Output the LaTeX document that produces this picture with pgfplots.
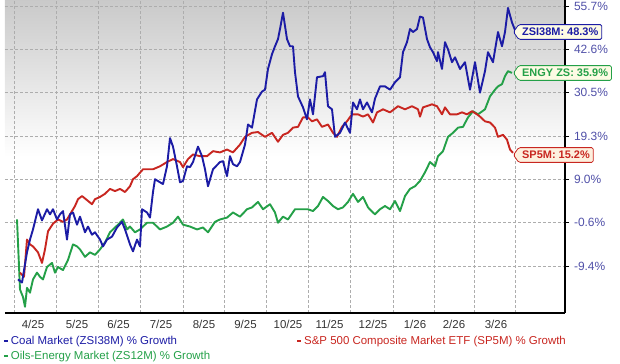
\documentclass[border=0pt]{standalone}
\usepackage{pgfplots}
\pgfplotsset{compat=1.18}
\usepackage{fontspec}
\setmainfont{Liberation Sans}
\usetikzlibrary{shapes.symbols}
\definecolor{cblue}{RGB}{28,28,165}
\definecolor{cred}{RGB}{200,38,32}
\definecolor{cgreen}{RGB}{36,160,72}
\definecolor{tickblue}{RGB}{80,80,168}
\definecolor{cream}{RGB}{253,251,228}
\definecolor{peach}{RGB}{253,240,222}
\begin{document}
\begin{tikzpicture}
\useasboundingbox (0,0) rectangle (620bp,364bp);
\begin{axis}[
  at={(5bp,51bp)}, anchor=south west,
  scale only axis, width=560bp, height=313bp,
  xmin=5, xmax=565,
  ymode=log, ymin=98.78, ymax=174.6,
  axis x line*=bottom, axis y line*=right,
  axis line style={line width=1.8bp, black},
  ytick={107.6,116.4,126,136.3,147.5,159.6,172.7},
  yticklabels={-9.4\%,-0.6\%,9.0\%,19.3\%,30.5\%,42.6\%,55.7\%},
  ymajorgrids,
  xtick={33,77,118.5,161,204,245.5,288,329.5,373,415,454,496},
  xticklabels={4/25,5/25,6/25,7/25,8/25,9/25,10/25,11/25,12/25,1/26,2/26,3/26},
  minor xtick={14,56,98,140,183,224,266,308,350,393,434,474,515},
  xminorgrids, xmajorgrids=false,
  grid style={densely dashed, black!32, line width=0.6bp},
  minor grid style={densely dashed, black!32, line width=0.6bp},
  xtick style={draw=none}, minor tick length=0pt,
  ytick style={black, line width=0.8bp},
  tick align=outside, major tick length=4bp,
  yticklabel style={text=tickblue, font=\fontsize{12}{13}\selectfont, xshift=1.5bp},
  xticklabel style={text=black!80, font=\fontsize{11.5}{12}\selectfont},
  axis background/.style={top color=black!21, bottom color=white, middle color=white},
  legend style={draw=none, fill=none, at={(-0.004,-0.067)}, anchor=north west,
    font=\fontsize{11.5}{12}\selectfont, inner sep=0pt, row sep=1bp,
    /tikz/every even column/.append style={column sep=84bp}},
  legend columns=2, legend cell align=left,
  legend image code/.code={\draw[#1, line width=2bp] (0bp,0bp) -- (4bp,0bp);},
  every axis plot/.append style={line width=1.9bp, line join=round},
]
\addlegendimage{cblue}
\addlegendentry{\textcolor{cblue}{Coal Market (ZSI38M) \% Growth}}
\addlegendimage{cred}
\addlegendentry{\textcolor{cred}{S\&P 500 Composite Market ETF (SP5M) \% Growth}}
\addlegendimage{cgreen}
\addlegendentry{\textcolor{cgreen}{Oils-Energy Market (ZS12M) \% Growth}}

% Oils-Energy Market (ZS12M) % growth
\addplot[cgreen, forget plot] table[x=x, y expr=\thisrow{g}+117] {
x g
17 0.1
20 -13.9
23 -15.3
25 -17.1
27 -13.6
30 -14.5
33 -12.0
37 -10.7
40 -11.5
43 -12.0
47 -9.6
52 -8.8
55 -10.7
58 -9.6
63 -10.2
68 -8.2
73 -5.1
77 -5.5
80 -6.1
85 -7.6
90 -6.7
95 -7.2
100 -6.1
105 -4.7
110 -2.6
113 -2.0
118 -1.0
123 0.1
127 -2.0
130 -1.4
135 -2.6
140 -2.0
147 -0.6
153 -0.6
160 -2.0
167 -1.4
173 -0.6
178 0.7
183 -1.0
190 -1.4
197 -2.0
203 -1.6
208 -2.6
215 -0.4
220 0.1
227 0.5
233 1.6
240 0.7
247 2.3
252 2.7
258 3.9
263 2.3
270 3.4
275 1.6
278 -0.6
283 0.7
288 0.1
295 2.3
302 2.3
308 2.3
313 1.9
318 3.0
323 5.0
328 4.1
333 3.0
338 2.3
343 2.7
348 3.9
353 5.7
358 3.9
363 5.0
368 2.7
373 1.6
375 1.2
380 2.3
385 3.0
390 2.3
395 4.1
400 1.9
405 5.2
410 6.8
415 7.4
420 8.6
425 10.6
430 13.0
435 12.0
438 14.4
443 15.6
448 19.1
453 20.1
458 21.4
463 21.6
468 24.0
473 25.6
478 24.8
485 26.1
490 29.5
495 31.3
498 32.2
502 32.8
505 35.0
508 36.4
512 35.9
};

% S&P 500 Composite (SP5M) % growth
\addplot[cred, forget plot] table[x=x, y expr=\thisrow{g}+117] {
x g
20 -10.7
24 -11.5
27 -4.1
30 -5.1
33 -5.5
38 -6.7
42 -8.8
45 -6.1
48 -2.4
53 -0.8
58 0.1
63 -0.4
67 0.1
72 1.9
75 3.0
78 4.5
82 5.2
87 4.3
92 3.4
95 4.5
100 5.0
105 5.7
110 6.8
115 6.3
120 6.8
125 6.1
130 7.4
133 9.0
137 9.7
143 11.3
148 11.3
153 11.3
160 12.0
167 13.0
173 13.7
180 13.0
183 11.8
188 13.7
193 14.8
200 14.4
207 14.4
213 15.6
220 15.3
227 16.0
233 15.3
240 17.2
245 19.1
252 20.1
258 20.3
265 19.1
272 20.1
278 17.9
283 19.6
288 20.1
293 21.4
298 21.6
303 24.0
308 24.0
312 23.0
317 23.5
322 21.6
328 22.2
333 20.1
337 19.1
342 21.6
347 23.0
352 24.8
358 24.8
363 24.2
368 24.8
373 22.7
377 25.3
383 26.1
390 25.3
398 26.9
405 26.1
412 26.9
418 26.1
420 24.2
423 26.6
432 27.4
437 26.9
442 24.8
445 26.6
450 24.8
457 24.8
462 25.3
467 24.8
472 25.6
477 24.8
480 24.2
485 23.0
490 22.7
495 21.4
498 19.1
503 19.6
507 18.4
510 16.0
513 15.2
};

% Coal Market (ZSI38M) % growth
\addplot[cblue, forget plot] table[x=x, y expr=\thisrow{g}+117] {
x g
18 -12.0
22 -12.6
27 -6.7
30 -4.1
33 -2.0
38 2.3
42 -0.1
47 2.3
50 1.2
53 2.3
57 0.1
60 1.2
63 1.9
67 -4.1
70 1.2
73 1.6
77 -1.0
80 0.7
85 -2.6
88 -1.4
92 -3.1
95 -2.6
100 -4.1
103 -5.5
107 -4.1
112 -3.5
117 -1.6
122 -0.4
125 -2.0
130 -5.1
133 -6.5
137 -4.1
140 -5.5
142 2.3
147 1.6
150 0.5
153 6.1
155 9.0
160 8.3
163 7.9
167 12.0
170 18.8
173 16.7
177 12.0
180 8.3
183 8.6
187 12.0
190 11.8
193 13.0
198 16.7
202 14.4
205 11.3
208 7.4
213 11.3
220 13.0
223 13.2
227 9.7
230 14.4
233 12.5
237 12.0
240 13.0
245 17.2
248 22.2
252 21.4
257 28.7
262 30.8
265 31.3
268 37.0
272 41.2
275 43.5
278 45.6
280 48.6
283 53.6
287 45.6
290 43.5
293 43.5
295 36.1
298 29.5
303 26.6
307 23.5
310 28.7
313 24.8
317 34.7
323 35.0
325 36.1
328 26.9
332 26.1
335 19.1
340 20.1
345 22.7
350 20.1
353 27.9
357 26.1
360 28.7
363 26.1
367 27.9
372 25.3
375 28.9
380 32.2
385 32.2
390 31.3
395 33.3
400 34.7
403 41.8
407 44.7
410 48.6
413 47.7
417 48.6
420 52.4
423 52.1
427 45.6
430 43.2
433 41.8
437 39.2
438 41.8
442 37.0
445 44.7
448 42.6
452 38.9
455 40.3
460 37.0
465 38.9
470 31.3
475 38.9
480 30.5
485 36.4
488 41.8
493 38.9
498 47.7
502 43.5
505 47.7
508 55.1
512 50.6
515 48.3
};
\end{axis}
\tikzset{callout/.style={signal, signal to=west, signal pointer angle=110, line width=0.8bp,
  rounded corners=1.5bp, inner xsep=3.5bp, inner ysep=3.5bp, anchor=west,
  font=\bfseries\fontsize{11}{12}\selectfont}}
\node[callout, draw=cblue, fill=cream, text=cblue] at (513bp,332bp) {ZSI38M: 48.3\%};
\node[callout, draw=cgreen, fill=cream, text=cgreen] at (513bp,291bp) {ENGY ZS: 35.9\%};
\node[callout, draw=cred, fill=peach, text=cred] at (513bp,209bp) {SP5M: 15.2\%};
\end{tikzpicture}
\end{document}
